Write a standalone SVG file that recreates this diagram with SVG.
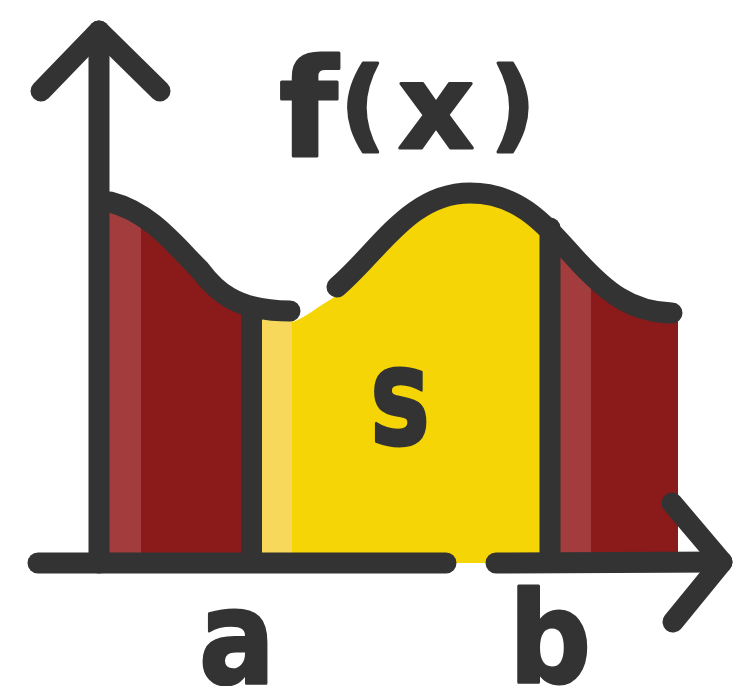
<svg xmlns="http://www.w3.org/2000/svg" width="733" height="686" viewBox="0 0 733 686">
<style>
.ink{fill:none;stroke:#333333;stroke-width:21;stroke-linecap:round;stroke-linejoin:round}
.lbl{font-family:"DejaVu Sans","Liberation Sans",sans-serif;font-weight:bold;fill:#333333;stroke:#333333;stroke-width:3;stroke-linejoin:round}
.rl{fill:#a33c3c}.rd{fill:#8b1a1a}.yl{fill:#f8d85a}.yd{fill:#f5d506}
</style>
<defs>
<clipPath id="under">
<path d="M99,202 L110,202 C150,212 175,245 200,270 C215,290 235,311 290,311 L293,322 C305,318 320,305 333,298 L337,287 C380,250 410,193 470,193 C520,193 545,225 575,258 C605,291 630,312 672,313 L680,320 L680,563 L99,563 Z"/>
</clipPath>
</defs>
<g id="areas" clip-path="url(#under)">
<rect class="rl" x="105" y="150" width="36" height="403"/>
<rect class="rd" x="141" y="150" width="100" height="403"/>
<rect class="yl" x="262" y="150" width="30" height="413"/>
<rect class="yd" x="292" y="150" width="248" height="413"/>
<rect class="rl" x="560" y="150" width="31" height="403"/>
<rect class="rd" x="591" y="150" width="87" height="403"/>
</g>
<g id="connectors">
<path class="ink" d="M41,91 L99,31 L160,91"/>
<path class="ink" d="M99,31 L99,563"/>
<path class="ink" d="M38,563 L446,563"/>
<path class="ink" d="M496,563 L722,562"/>
<path class="ink" d="M672,503 L722,562 L673,622"/>
<path class="ink" d="M251.5,312 L251.5,553"/>
<path class="ink" d="M550,228 L550,553"/>
<path class="ink" d="M110,202 C150,212 175,245 200,270 C215,290 235,311 290,311"/>
<path class="ink" d="M337,287 C380,250 410,193 470,193 C520,193 545,225 575,258 C605,291 630,312 672,313"/>
</g>
<g id="labels">
<text class="lbl"><tspan x="279" y="156" font-size="135">f</tspan><tspan x="340" y="139" font-size="100">(</tspan><tspan x="398" y="148" font-size="118">x</tspan><tspan x="490" y="139" font-size="100">)</tspan></text>
<text class="lbl" x="370" y="444" font-size="135" textLength="60" lengthAdjust="spacingAndGlyphs">s</text>
<text class="lbl" x="199" y="683" font-size="130" textLength="76" lengthAdjust="spacingAndGlyphs">a</text>
<text class="lbl" x="509" y="682" font-size="126" textLength="82" lengthAdjust="spacingAndGlyphs">b</text>
</g>
</svg>
